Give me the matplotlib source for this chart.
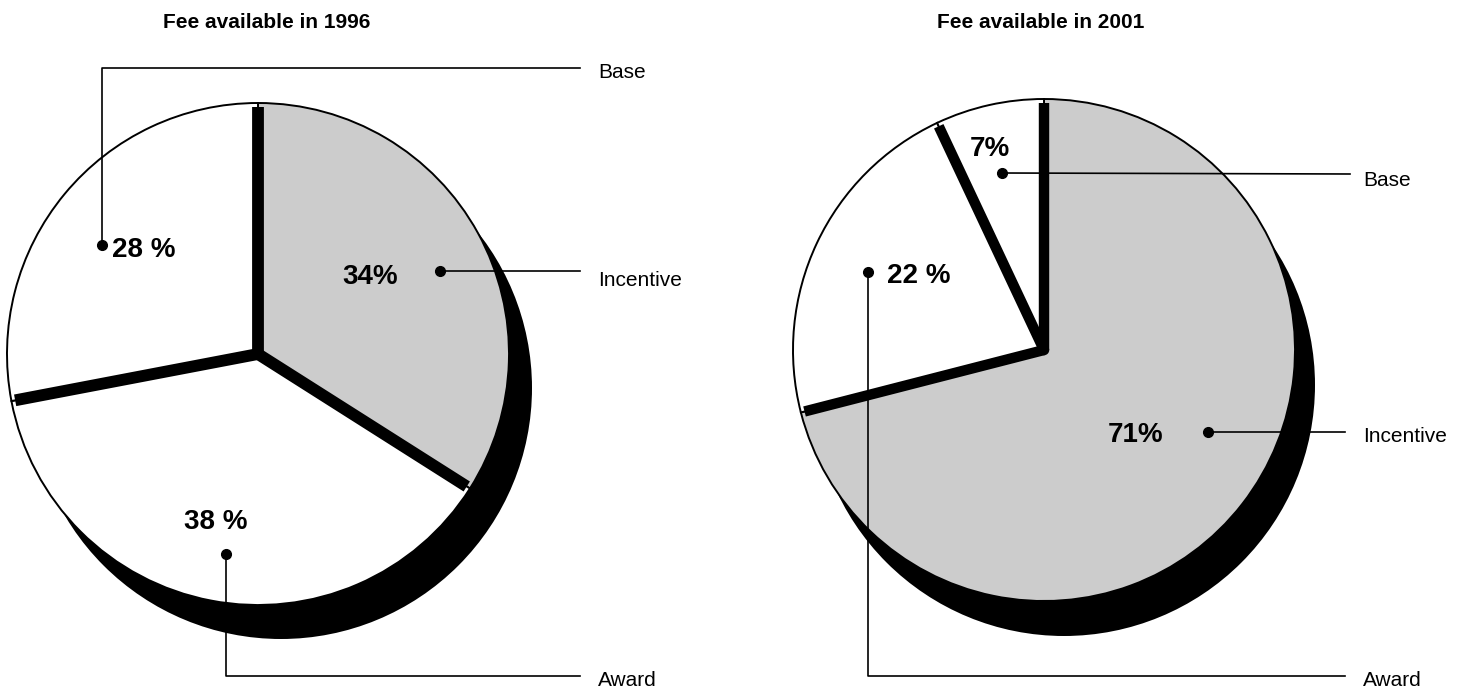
"""Fee available in 1996 vs 2001, two shadowed pies with callouts.

    python plot.py
"""

import numpy as np
import matplotlib
matplotlib.use("Agg")
import matplotlib.pyplot as plt
from matplotlib.patches import Circle

plt.rcParams["font.family"] = ["Liberation Sans", "DejaVu Sans"]

# slices go clockwise from 12 o'clock
fee_types = ["Incentive", "Award", "Base"]
fee_1996 = [34, 38, 28]
fee_2001 = [71, 22, 7]
pct_1996 = ["34%", "38 %", "28 %"]
pct_2001 = ["71%", "22 %", "7%"]
titles = ["Fee available in 1996", "Fee available in 2001"]

GREY = "#cccccc"
H = 690  # image height, the layout below is in pixels from the top


def draw_pie(ax, values, center, radius, shadow=(22, 35), sep=8.5):
    cx, cy = center
    ax.add_patch(Circle((cx + shadow[0], cy - shadow[1]), radius,
                        facecolor="black", edgecolor="none", zorder=1))
    ax.pie(values, startangle=90, counterclock=False, radius=radius,
           center=center, colors=[GREY, "white", "white"],
           wedgeprops=dict(edgecolor="black", linewidth=1.4, zorder=2))
    # thick black separators along each wedge boundary
    bounds = 90 - 360 * np.cumsum(values) / np.sum(values)
    for a in bounds:
        t = np.deg2rad(a)
        ax.plot([cx, cx + 0.985 * radius * np.cos(t)],
                [cy, cy + 0.985 * radius * np.sin(t)],
                color="black", lw=sep, solid_capstyle="butt", zorder=3)
    ax.add_patch(Circle(center, sep * 0.7, facecolor="black",
                        edgecolor="none", zorder=3))


def callout(ax, text, dot, path, label, label_xy, pct_xy, pct_ha="center"):
    # dot, path, label_xy, pct_xy in image pixels (y down)
    xs = [dot[0]] + [p[0] for p in path]
    ys = [H - dot[1]] + [H - p[1] for p in path]
    ax.plot(xs, ys, color="black", lw=1.2, zorder=4)
    ax.plot(dot[0], H - dot[1], "o", color="black", ms=7, zorder=5)
    ax.text(label_xy[0], H - label_xy[1], label, fontsize=15,
            ha="left", va="center", zorder=5)
    ax.text(pct_xy[0], H - pct_xy[1], text, fontsize=20, fontweight="bold",
            ha=pct_ha, va="center", zorder=5)


def main():
    fig = plt.figure(figsize=(14.6, 6.9), dpi=100)
    ax = fig.add_axes([0, 0, 1, 1])

    # 1996
    draw_pie(ax, fee_1996, (258, H - 354), 251, shadow=(23, 34), sep=8.5)
    callout(ax, pct_1996[0], (440, 271), [(580, 271)], fee_types[0],
            (598, 280), (370, 277))
    callout(ax, pct_1996[1], (226, 554), [(226, 676), (580, 676)], fee_types[1],
            (598, 680), (216, 522))
    callout(ax, pct_1996[2], (102, 245), [(102, 68), (580, 68)], fee_types[2],
            (598, 72), (112, 250), pct_ha="left")

    # 2001
    draw_pie(ax, fee_2001, (1044, H - 350), 251, shadow=(20, 35), sep=7.5)
    callout(ax, pct_2001[0], (1208, 432), [(1345, 432)], fee_types[0],
            (1363, 437), (1136, 435))
    callout(ax, pct_2001[1], (868, 272), [(868, 676), (1345, 676)], fee_types[1],
            (1363, 680), (887, 276), pct_ha="left")
    callout(ax, pct_2001[2], (1002, 173), [(1350, 174)], fee_types[2],
            (1363, 180), (990, 149))

    ax.text(267, H - 22, titles[0], fontsize=15, fontweight="bold",
            ha="center", va="center")
    ax.text(1041, H - 22, titles[1], fontsize=15, fontweight="bold",
            ha="center", va="center")

    ax.set_xlim(0, 1460)
    ax.set_ylim(0, H)
    ax.set_aspect("auto")
    ax.axis("off")
    fig.savefig("out.png", dpi=100, facecolor="white")


if __name__ == "__main__":
    main()
